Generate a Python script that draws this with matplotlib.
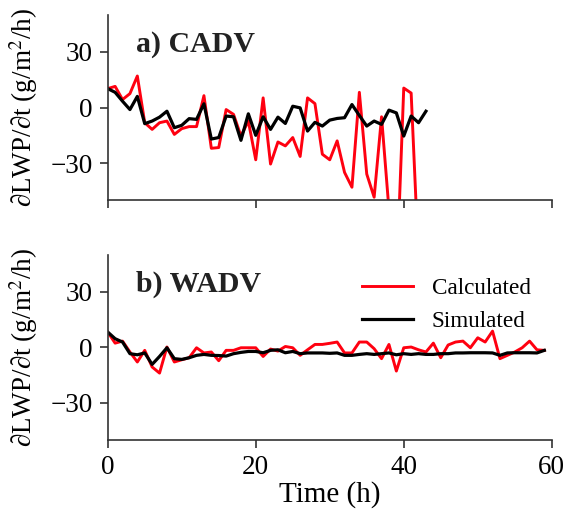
import matplotlib
matplotlib.use('Agg')
import matplotlib.pyplot as plt
import numpy as np

plt.rcParams['font.family'] = ['Liberation Serif', 'DejaVu Serif']
plt.rcParams['mathtext.fontset'] = 'stix'

# a) CADV - hourly tendencies (read off the figure)
cadv_calc = [10.2, 11.4, 4.3, 7.5, 17, -8.2, -11.8, -8.2, -7.3, -14.5,
             -11.4, -10.3, -10.3, 6.4, -22, -21.6, -1.1, -3.7, -15.4, -7.3,
             -28.2, 5.2, -30.5, -18.6, -20.7, -16.2, -26.4, 5.2, 2.1, -25.2,
             -28.2, -18, -35, -43, 8.2, -35.9, -48.4, -5, -55, -95,
             10.5, 7.8, -82]
cadv_sim = [10.2, 8.2, 3.4, -1.1, 6, -8.7, -7.3, -5.2, -2, -10.9,
            -9.6, -6, -6.4, 2, -17, -16.2, -4.6, -5, -17.7, -3.4,
            -15, -5, -11.8, -5.2, -8.6, 0.7, -0.2, -12.7, -8, -10,
            -6.8, -5.9, -5.5, 1.6, -4.3, -10, -7.3, -9.1, -1.4, -2.9,
            -15.4, -4.6, -8.2, -2]

# b) WADV
wadv_calc = [8.3, 2.3, 3.4, -2.5, -7.9, -1.6, -10.6, -13.9, 0.2, -7.9,
             -6.7, -5.6, -0.2, -3, -2.5, -7.2, -1.6, -1.6, -0.2, -0.2,
             -0.2, -4.9, -0.9, -2, 0.5, -0.2, -4.3, -1.3, 1.6, 1.6,
             2.2, 2.9, -3, -3, 2.9, 2.9, -0.7, -6.1, 1.6, -12.8,
             -0.2, 0.2, -1.3, -2.5, 2.3, -5.6, 1.3, 2.9, 3.4, -0.2,
             5.2, 2.9, 8.8, -6.1, -4.3, -2.5, -0.2, 3.4, -1.3, -1.6]
wadv_sim = [8.3, 4.7, 2.9, -3.4, -4, -3, -9.2, -4.9, -0.2, -6.1,
            -6.5, -5.6, -4.3, -3.8, -4.3, -4.4, -4.7, -3.4, -2.7, -2.2,
            -2.2, -2.9, -1.6, -1.3, -2.9, -2.2, -3.4, -3, -3, -3,
            -3.2, -3, -4.3, -4.3, -3.8, -3.4, -3.8, -3.4, -3, -4,
            -3.4, -3.8, -3.4, -3.8, -3.8, -3.4, -3.4, -3, -3, -2.9,
            -2.9, -2.9, -3, -4.3, -3, -2.9, -2.9, -2.9, -3, -1.6]

panels = [('a) CADV', cadv_calc, cadv_sim), ('b) WADV', wadv_calc, wadv_sim)]

fig = plt.figure(figsize=(5.7, 5.12), dpi=100)
ax1 = fig.add_axes([0.189, 0.609, 0.779, 0.362])
ax2 = fig.add_axes([0.189, 0.141, 0.779, 0.361])

for ax, (name, calc, sim) in zip([ax1, ax2], panels):
    ax.plot(np.arange(len(calc)), calc, color='#ff0010', lw=2.1, label='Calculated')
    ax.plot(np.arange(len(sim)), sim, color='black', lw=2.3, label='Simulated')
    ax.set_xlim(0, 60)
    ax.set_ylim(-50, 50)
    ax.set_yticks([-30, 0, 30])
    ax.set_xticks([0, 20, 40, 60])
    ax.spines['top'].set_visible(False)
    ax.spines['right'].set_visible(False)
    for s in ['left', 'bottom']:
        ax.spines[s].set_linewidth(1.2)
        ax.spines[s].set_color('#333333')
    ax.tick_params(labelsize=19.5, width=1.2, length=6, pad=5, color='#333333')
    ax.set_ylabel('\u2202LWP/\u2202t (g/m$^2$/h)', fontsize=19.5, labelpad=7)
    ax.text(3.8, 34, name, fontsize=21.5, fontweight='bold', va='center', color='#222222')

ax1.tick_params(labelbottom=False)
ax2.set_xlabel('Time (h)', fontsize=21, labelpad=1)
ax2.legend(loc='upper right', bbox_to_anchor=(1.0, 0.99), frameon=False, fontsize=16.7,
           handlelength=2.2, labelspacing=0.5)

fig.savefig('out.png', dpi=100)
